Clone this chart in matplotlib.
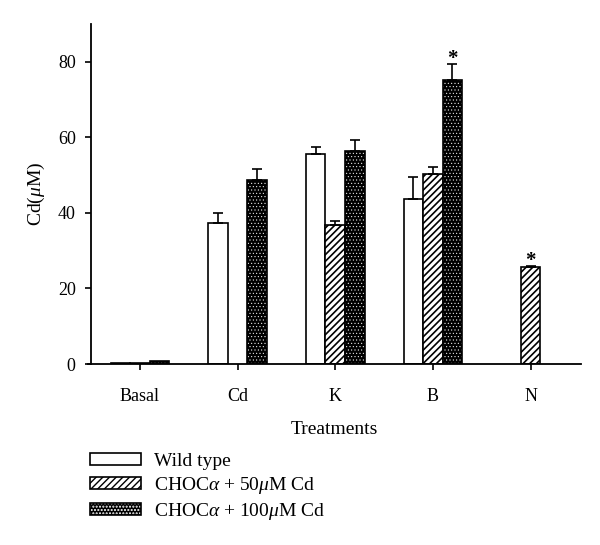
import matplotlib
matplotlib.use("Agg")
import matplotlib.pyplot as plt
from matplotlib.patches import Patch
import numpy as np

# fonts: serif text, italic greek via mathtext
plt.rcParams["font.family"] = ["Liberation Serif", "DejaVu Serif"]
plt.rcParams["mathtext.fontset"] = "custom"
plt.rcParams["mathtext.rm"] = "Liberation Serif"
plt.rcParams["mathtext.it"] = "Liberation Serif:italic"

# ── data ─────────────────────────────────────────────
treatments = ["Basal", "Cd", "K", "B", "N"]
wild = [0.4, 37.3, 55.6, 43.8, np.nan]
wild_err = [0.0, 2.8, 1.8, 5.8, np.nan]
choc50 = [0.2, np.nan, 36.9, 50.4, 25.8]
choc50_err = [0.0, np.nan, 1.0, 1.7, 0.2]
choc100 = [0.8, 48.8, 56.4, 75.3, np.nan]
choc100_err = [0.0, 2.9, 2.8, 4.1, np.nan]
star50 = [False, False, False, False, True]
star100 = [False, False, False, True, False]

labels = ["Wild type",
          r"CHOC$\it{\alpha}$ + 50$\it{\mu}$M Cd",
          r"CHOC$\it{\alpha}$ + 100$\it{\mu}$M Cd"]

HATCH_LW = 1.2   # diagonal lines
DOT_LW = 0.35    # white dots on black

# ── figure ───────────────────────────────────────────
fig = plt.figure(figsize=(6, 5.45), dpi=100)
ax = fig.add_axes([0.146, 0.332, 0.822, 0.624])

width = 0.2
LW = 1.2
xpos = np.arange(len(treatments))


def draw_series(vals, errs, stars, offset, style):
    v = np.array(vals, dtype=float)
    e = np.array(errs, dtype=float)
    x = xpos + offset
    m = ~np.isnan(v)
    if style == "open":
        ax.bar(x[m], v[m], width, facecolor="white", edgecolor="black",
               linewidth=LW, zorder=2)
    elif style == "hatch":
        with plt.rc_context({"hatch.linewidth": HATCH_LW}):
            ax.bar(x[m], v[m], width, facecolor="white", edgecolor="black",
                   hatch="/////", linewidth=LW, zorder=2)
    else:
        with plt.rc_context({"hatch.linewidth": DOT_LW}):
            ax.bar(x[m], v[m], width, facecolor="black", edgecolor="white",
                   hatch=".....", linewidth=0, zorder=2)
        ax.bar(x[m], v[m], width, fill=False, edgecolor="black",
               linewidth=LW, zorder=2)
    me = m & (np.nan_to_num(e) > 0)
    ax.errorbar(x[me], v[me], yerr=[np.zeros(me.sum()), e[me]], fmt="none",
                ecolor="black", elinewidth=LW, capsize=3.5, capthick=LW,
                zorder=3)
    for xi, vi, ei, s in zip(x, v, e, stars):
        if s:
            ax.text(xi, vi + ei - 1.3, "*", ha="center", va="bottom",
                    fontsize=15, fontweight="bold")


draw_series(wild, wild_err, [False] * 5, -width, "open")
draw_series(choc50, choc50_err, star50, 0.0, "hatch")
draw_series(choc100, choc100_err, star100, width, "dots")

ax.set_xlim(-0.535, 4.514)
ax.set_ylim(0, 90)
ax.set_xticks(xpos)
ax.set_xticklabels(treatments)
ax.set_yticks([0, 20, 40, 60, 80])
ax.spines["top"].set_visible(False)
ax.spines["right"].set_visible(False)
ax.spines["left"].set_position(("data", -0.5))
for s in ("left", "bottom"):
    ax.spines[s].set_linewidth(1.3)
ax.tick_params(axis="both", direction="out", length=4, width=1.2,
               labelsize=13)
ax.tick_params(axis="y", pad=7)
ax.tick_params(axis="x", pad=13)

ax.set_xlabel("Treatments", fontsize=14, labelpad=12)
ax.set_ylabel(r"Cd($\it{\mu}$M)", fontsize=14, labelpad=8)

# ── legend ───────────────────────────────────────────
h_open = Patch(facecolor="white", edgecolor="black", linewidth=LW)
with plt.rc_context({"hatch.linewidth": HATCH_LW}):
    h_hatch = Patch(facecolor="white", edgecolor="black", hatch="/////",
                    linewidth=LW)
with plt.rc_context({"hatch.linewidth": DOT_LW}):
    h_dots = (Patch(facecolor="black", edgecolor="white", hatch=".....",
                    linewidth=0),
              Patch(fill=False, edgecolor="black", linewidth=LW))
fig.legend([h_open, h_hatch, h_dots], labels, loc="upper left",
           bbox_to_anchor=(0.15, 0.169), frameon=False, fontsize=14,
           handlelength=2.6, handleheight=0.55, handletextpad=0.7,
           labelspacing=0.25, borderpad=0, borderaxespad=0)

fig.savefig("out.png", dpi=100, facecolor="white")
